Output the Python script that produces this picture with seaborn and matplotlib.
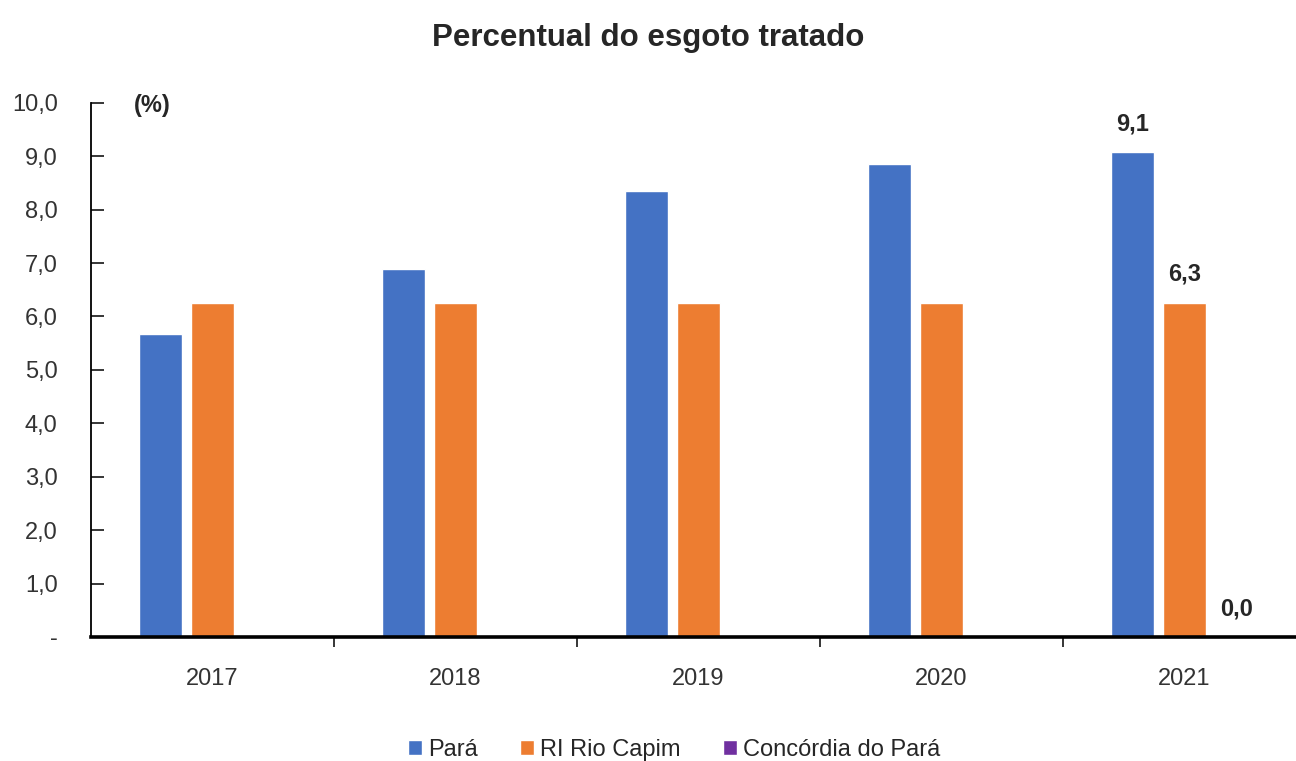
import pandas as pd
import numpy as np
import seaborn as sns
import matplotlib.pyplot as plt
from matplotlib.ticker import FixedLocator

# dados
anos = ["2017", "2018", "2019", "2020", "2021"]
para = [5.67, 6.88, 8.35, 8.86, 9.07]
rio_capim = [6.26, 6.26, 6.26, 6.26, 6.26]
concordia = [0.0, 0.0, 0.0, 0.0, 0.0]
series = ["Pará", "RI Rio Capim", "Concórdia do Pará"]
cores = ["#4472C4", "#ED7D31", "#7030A0"]
y_ticks = [0, 1, 2, 3, 4, 5, 6, 7, 8, 9, 10]
y_labels = ["-", "1,0", "2,0", "3,0", "4,0", "5,0", "6,0", "7,0", "8,0", "9,0", "10,0"]

df = pd.DataFrame({
    "ano": anos * 3,
    "serie": [s for s in series for _ in anos],
    "valor": para + rio_capim + concordia,
})

sns.set_style("white")
plt.rcParams["font.family"] = ["Liberation Sans", "DejaVu Sans"]

fig = plt.figure(figsize=(12.96, 7.61), dpi=100)
ax = fig.add_axes([0.0702, 0.163, 0.9375, 0.702])

sns.barplot(data=df, x="ano", y="valor", hue="serie", hue_order=series,
            palette=cores, width=0.64, gap=0.17, saturation=1,
            legend=True, ax=ax)

# rótulos só no último ano
for cont in ax.containers:
    vals = [b.get_height() for b in cont]
    labs = [""] * (len(vals) - 1) + [f"{vals[-1]:.1f}".replace(".", ",")]
    ax.bar_label(cont, labels=labs, padding=12, fontsize=17, fontweight="bold")

ax.set_xlim(-0.5, 4.5)
ax.set_ylim(0, 10)
ax.set_yticks(y_ticks)
ax.set_yticklabels(y_labels, fontsize=17, color="#333333")
ax.tick_params(axis="y", left=True, direction="in", length=9, width=1.3, pad=24)
ax.tick_params(axis="x", which="major", bottom=False, length=0, pad=22, labelsize=17, labelcolor="#333333")
ax.xaxis.set_minor_locator(FixedLocator([0.5, 1.5, 2.5, 3.5]))
ax.tick_params(axis="x", which="minor", bottom=True, direction="out", length=7, width=1.3)
ax.set_xlabel("")
ax.set_ylabel("")

for s in ["top", "right"]:
    ax.spines[s].set_visible(False)
ax.spines["left"].set_linewidth(1.3)
ax.spines["bottom"].set_linewidth(2.6)
ax.spines["left"].set_color("black")
ax.spines["bottom"].set_color("black")

ax.text(0.035, 0.995, "(%)", transform=ax.transAxes, fontsize=17, fontweight="bold",
        va="center", ha="left")

fig.suptitle("Percentual do esgoto tratado", fontsize=22.5, fontweight="bold", y=0.97)

handles, labels = ax.get_legend_handles_labels()
ax.legend(handles, labels, loc="center", bbox_to_anchor=(0.48, -0.212),
          ncol=3, frameon=False, fontsize=17, handlelength=0.6, handleheight=0.6,
          handletextpad=0.25, columnspacing=1.8)

fig.savefig("out.png", dpi=100)
